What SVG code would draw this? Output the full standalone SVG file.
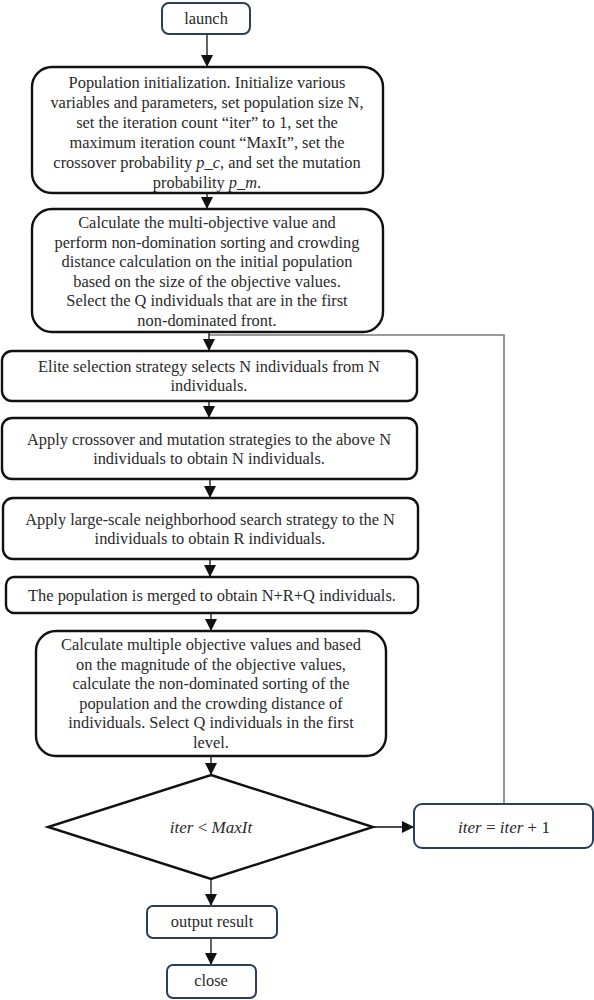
<svg xmlns="http://www.w3.org/2000/svg" width="594" height="1000" viewBox="0 0 594 1000">
<style>
.bg{fill:#ffffff}
.box{fill:#ffffff;stroke:#111111;stroke-width:2.4}
.term{fill:#ffffff;stroke:#2b3f5a;stroke-width:2}
.t{font-family:"Liberation Serif","Times New Roman",serif;font-size:16.4px;fill:#2a2a2a;text-anchor:middle}
.m{font-family:"Liberation Serif","Times New Roman",serif;font-size:17px;fill:#2a2a2a;text-anchor:middle;font-style:italic}
.c{fill:none;stroke:#111111;stroke-width:1.3}
.fb{fill:none;stroke:#7a7a7a;stroke-width:1.6}
</style>
<defs>
<marker id="ah" markerWidth="12" markerHeight="12" refX="11" refY="6" orient="auto" markerUnits="userSpaceOnUse">
<path d="M0,0 L12,6 L0,12 Z" fill="#111111"/>
</marker>
</defs>
<rect class="bg" x="0" y="0" width="594" height="1000"/>

<g id="connectors">
<path class="fb" d="M504,804 V335 H209"/>
<line class="c" x1="207" y1="34" x2="207" y2="66" marker-end="url(#ah)"/>
<line class="c" x1="207" y1="193" x2="207" y2="208" marker-end="url(#ah)"/>
<line class="c" x1="209" y1="332" x2="209" y2="350" marker-end="url(#ah)"/>
<line class="c" x1="209" y1="401" x2="209" y2="417" marker-end="url(#ah)"/>
<line class="c" x1="210" y1="479" x2="210" y2="497" marker-end="url(#ah)"/>
<line class="c" x1="210" y1="559" x2="210" y2="576" marker-end="url(#ah)"/>
<line class="c" x1="211" y1="613" x2="211" y2="630" marker-end="url(#ah)"/>
<line class="c" x1="211" y1="756" x2="211" y2="774" marker-end="url(#ah)"/>
<line class="c" x1="373" y1="827" x2="413" y2="827" marker-end="url(#ah)"/>
<line class="c" x1="211" y1="879" x2="211" y2="905" marker-end="url(#ah)"/>
<line class="c" x1="211" y1="938" x2="211" y2="964" marker-end="url(#ah)"/>
</g>

<g id="launch">
<rect class="term" x="162" y="3" width="88" height="31" rx="7"/>
<text class="t" x="206" y="24">launch</text>
</g>

<g id="init">
<rect class="box" x="32" y="67" width="351" height="126" rx="20"/>
<text class="t" x="207" y="88">Population initialization. Initialize various</text>
<text class="t" x="207" y="108">variables and parameters, set population size N,</text>
<text class="t" x="207" y="128">set the iteration count “iter” to 1, set the</text>
<text class="t" x="207" y="148">maximum iteration count “MaxIt”, set the</text>
<text class="t" x="207" y="168">crossover probability <tspan font-style="italic">p_c</tspan>, and set the mutation</text>
<text class="t" x="207" y="188">probability <tspan font-style="italic">p_m</tspan>.</text>
</g>

<g id="evaluate">
<rect class="box" x="32" y="209" width="351" height="123" rx="20"/>
<text class="t" x="207" y="228">Calculate the multi-objective value and</text>
<text class="t" x="207" y="247.6">perform non-domination sorting and crowding</text>
<text class="t" x="207" y="267.2">distance calculation on the initial population</text>
<text class="t" x="207" y="286.8">based on the size of the objective values.</text>
<text class="t" x="207" y="306.4">Select the Q individuals that are in the first</text>
<text class="t" x="207" y="326">non-dominated front.</text>
</g>

<g id="elite">
<rect class="box" x="2" y="351" width="415" height="50" rx="10"/>
<text class="t" x="209" y="372">Elite selection strategy selects N individuals from N</text>
<text class="t" x="209" y="391">individuals.</text>
</g>

<g id="crossover">
<rect class="box" x="2" y="418" width="415" height="61" rx="10"/>
<text class="t" x="209" y="445">Apply crossover and mutation strategies to the above N</text>
<text class="t" x="209" y="464">individuals to obtain N individuals.</text>
</g>

<g id="neighborhood">
<rect class="box" x="3" y="498" width="415" height="61" rx="10"/>
<text class="t" x="210" y="525">Apply large-scale neighborhood search strategy to the N</text>
<text class="t" x="210" y="544">individuals to obtain R individuals.</text>
</g>

<g id="merge">
<rect class="box" x="6" y="577" width="412" height="36" rx="8"/>
<text class="t" x="212" y="601">The population is merged to obtain N+R+Q individuals.</text>
</g>

<g id="select">
<rect class="box" x="36" y="631" width="350" height="125" rx="20"/>
<text class="t" x="211" y="650">Calculate multiple objective values and based</text>
<text class="t" x="211" y="669.5">on the magnitude of the objective values,</text>
<text class="t" x="211" y="689">calculate the non-dominated sorting of the</text>
<text class="t" x="211" y="708.5">population and the crowding distance of</text>
<text class="t" x="211" y="728">individuals. Select Q individuals in the first</text>
<text class="t" x="211" y="747.5">level.</text>
</g>

<g id="decision">
<polygon class="box" points="211,775 373,827 211,879 48,827"/>
<text class="m" x="211" y="833">iter <tspan font-style="normal">&lt;</tspan> MaxIt</text>
</g>

<g id="increment">
<rect class="term" x="414" y="804" width="179" height="44" rx="8"/>
<text class="m" x="504" y="833">iter <tspan font-style="normal">=</tspan> iter <tspan font-style="normal">+ 1</tspan></text>
</g>

<g id="output">
<rect class="term" x="147" y="906" width="130" height="32" rx="6"/>
<text class="t" x="212" y="927">output result</text>
</g>

<g id="close">
<rect class="term" x="167" y="965" width="89" height="33" rx="6"/>
<text class="t" x="211" y="986">close</text>
</g>
</svg>
